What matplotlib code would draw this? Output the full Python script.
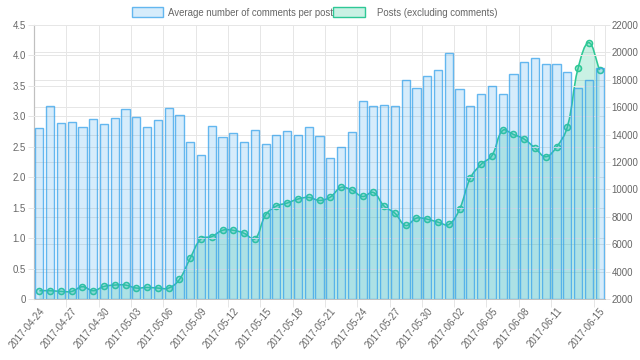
import numpy as np
import pandas as pd
import matplotlib
matplotlib.use("Agg")
import matplotlib.pyplot as plt
from matplotlib.path import Path
from matplotlib.patches import PathPatch, Rectangle

# ---------------- data ----------------
dates = [d.strftime("%Y-%m-%d") for d in pd.date_range("2017-04-24", "2017-06-15")]

avg_comments = [2.81, 3.17, 2.89, 2.90, 2.82, 2.95, 2.87, 2.97, 3.12, 2.99,
                2.83, 2.94, 3.14, 3.02, 2.58, 2.36, 2.84, 2.66, 2.72, 2.58,
                2.77, 2.55, 2.69, 2.76, 2.69, 2.82, 2.68, 2.31, 2.50, 2.75,
                3.26, 3.17, 3.18, 3.17, 3.60, 3.46, 3.67, 3.76, 4.04, 3.45,
                3.17, 3.37, 3.49, 3.37, 3.69, 3.89, 3.95, 3.86, 3.86, 3.72,
                3.46, 3.60, 3.80]

posts = [2606, 2606, 2558, 2558, 2897, 2606, 2921, 3018, 3018, 2800,
         2848, 2800, 2800, 3430, 4982, 6388, 6558, 7018, 7018, 6800,
         6388, 8133, 8788, 9006, 9297, 9418, 9200, 9439, 10146, 9951,
         9488, 9780, 8780, 8268, 7366, 7902, 7829, 7610, 7439, 8561,
         10829, 11830, 12461, 14306, 14015, 13675, 13019, 12388, 13092, 14549,
         18845, 20714, 18723]

label_idx = list(range(0, 49, 3)) + [52]
left_ticks = [0, 0.5, 1.0, 1.5, 2.0, 2.5, 3.0, 3.5, 4.0, 4.5]
left_labels = ["0", "0.5", "1.0", "1.5", "2.0", "2.5", "3.0", "3.5", "4.0", "4.5"]
right_ticks = list(range(2000, 22001, 2000))

series_names = ["Average number of comments per post", "Posts (excluding comments)"]

# ---------------- style ----------------
plt.rcParams["font.family"] = ["Liberation Sans", "DejaVu Sans"]
TXT = "#666666"
FS = 6.9
PX = 0.72  # 1 px in points at dpi 100
bar_face = (54/255, 162/255, 235/255, 0.2)
bar_edge = (54/255, 162/255, 235/255, 0.75)
line_col = (46/255, 200/255, 150/255)
area_col = (46/255, 200/255, 150/255, 0.25)
grid_col = "#e6e6e6"
zero_col = "#c0c0c0"

W, H = 640, 360
fig = plt.figure(figsize=(6.4, 3.6), dpi=100)
L, R, T, B = 34, 605, 25, 299
ax = fig.add_axes([L/W, 1 - B/H, (R - L)/W, (B - T)/H])
ax2 = ax.twinx()

n = len(dates)
x = np.arange(n)

# posts axis (right)
ax.set_xlim(-0.5, n - 0.5)
ax.set_ylim(2000, 22000)
ax.yaxis.tick_right()
ax.set_yticks(right_ticks)
ax.set_yticklabels([str(v) for v in right_ticks])

# comments axis (left)
ax2.set_ylim(0, 4.5)
ax2.yaxis.tick_left()
ax2.set_yticks(left_ticks)
ax2.set_yticklabels(left_labels)

# --- smooth line like chart.js (tension 0.4) ---
pts = ax.transData.transform(np.column_stack([x, posts]))
px_, py_ = pts[:, 0], pts[:, 1]
ybot = ax.transData.transform((0, 2000))[1]
ytop = ax.transData.transform((0, 22000))[1]
t = 0.4
cp_prev, cp_next = [], []
for i in range(n):
    a = max(i - 1, 0); c = min(i + 1, n - 1)
    d01 = np.hypot(px_[i] - px_[a], py_[i] - py_[a])
    d12 = np.hypot(px_[c] - px_[i], py_[c] - py_[i])
    s = d01 + d12
    s01 = d01 / s if s else 0
    s12 = d12 / s if s else 0
    fa, fb = t * s01, t * s12
    dx, dy = px_[c] - px_[a], py_[c] - py_[a]
    pv = [px_[i] - fa * dx, np.clip(py_[i] - fa * dy, ybot, ytop)]
    nx = [px_[i] + fb * dx, np.clip(py_[i] + fb * dy, ybot, ytop)]
    cp_prev.append(pv); cp_next.append(nx)
verts = [[px_[0], py_[0]]]
codes = [Path.MOVETO]
for i in range(n - 1):
    verts += [cp_next[i], cp_prev[i + 1], [px_[i + 1], py_[i + 1]]]
    codes += [Path.CURVE4] * 3
inv = ax.transData.inverted()
verts_d = inv.transform(np.array(verts))
line_path = Path(verts_d, codes)
fill_verts = np.vstack([verts_d, [[x[-1], 2000], [x[0], 2000], [x[0], 2000]]])
fill_codes = codes + [Path.LINETO, Path.LINETO, Path.CLOSEPOLY]
ax.add_patch(PathPatch(Path(fill_verts, fill_codes), facecolor=area_col,
                       edgecolor="none", zorder=2))
ax.add_patch(PathPatch(line_path, facecolor="none", edgecolor=line_col,
                       lw=1.6 * PX, zorder=3))
ax.plot(x, posts, "o", ms=6.0 * PX, mfc=area_col, mec=line_col,
        mew=1.6 * PX, zorder=4, linestyle="none")

# bars on top
ax2.bar(x, avg_comments, width=0.76, facecolor=bar_face, edgecolor=bar_edge,
        linewidth=1.4 * PX, zorder=3)

# grids
ax.grid(axis="y", color=grid_col, lw=PX, zorder=0)
ax2.grid(axis="y", color=grid_col, lw=PX, zorder=0)
ax.set_axisbelow(True)
ax2.set_axisbelow(True)
ax.set_xticks([i - 0.5 for i in label_idx if i > 0], minor=True)
ax.grid(axis="x", which="minor", color=grid_col, lw=PX)
ax.set_xticks(label_idx)
ax.set_xticklabels([dates[i] for i in label_idx], rotation=50, ha="right",
                   va="top", rotation_mode="anchor", fontsize=FS, color=TXT)
ax.tick_params(axis="x", which="major", length=0, pad=5)
ax.tick_params(axis="x", which="minor", length=6, width=PX, color=grid_col)
ax.tick_params(axis="y", length=5 * PX, width=PX, color=grid_col, labelsize=FS,
               labelcolor=TXT, pad=1)
ax2.tick_params(axis="y", length=6 * PX, width=PX, color=grid_col, labelsize=FS,
                labelcolor=TXT, pad=1.5)
ax2.tick_params(axis="x", which="both", length=0)

ax.spines["top"].set_visible(False)
ax.spines["left"].set_color(zero_col)
ax.spines["left"].set_linewidth(1.2 * PX)
ax.spines["bottom"].set_color(zero_col)
ax.spines["bottom"].set_linewidth(PX)
ax.spines["right"].set_color(grid_col)
ax.spines["right"].set_linewidth(PX)
for s in ax2.spines.values():
    s.set_visible(False)

# legend
def fx(p): return p / W
def fy(p): return 1 - p / H
fig.patches.append(Rectangle((fx(132), fy(17)), 31 / W, 10 / H, transform=fig.transFigure,
                             facecolor=bar_face, edgecolor=bar_edge, lw=1.4 * PX))
fig.text(fx(168), fy(12.5), series_names[0], fontsize=FS, color=TXT, va="center", ha="left")
fig.patches.append(Rectangle((fx(333), fy(17)), 32 / W, 10 / H, transform=fig.transFigure,
                             facecolor=area_col, edgecolor=line_col, lw=1.4 * PX))
fig.text(fx(377), fy(12.5), series_names[1], fontsize=FS, color=TXT, va="center", ha="left")

fig.savefig("out.png", dpi=100)
